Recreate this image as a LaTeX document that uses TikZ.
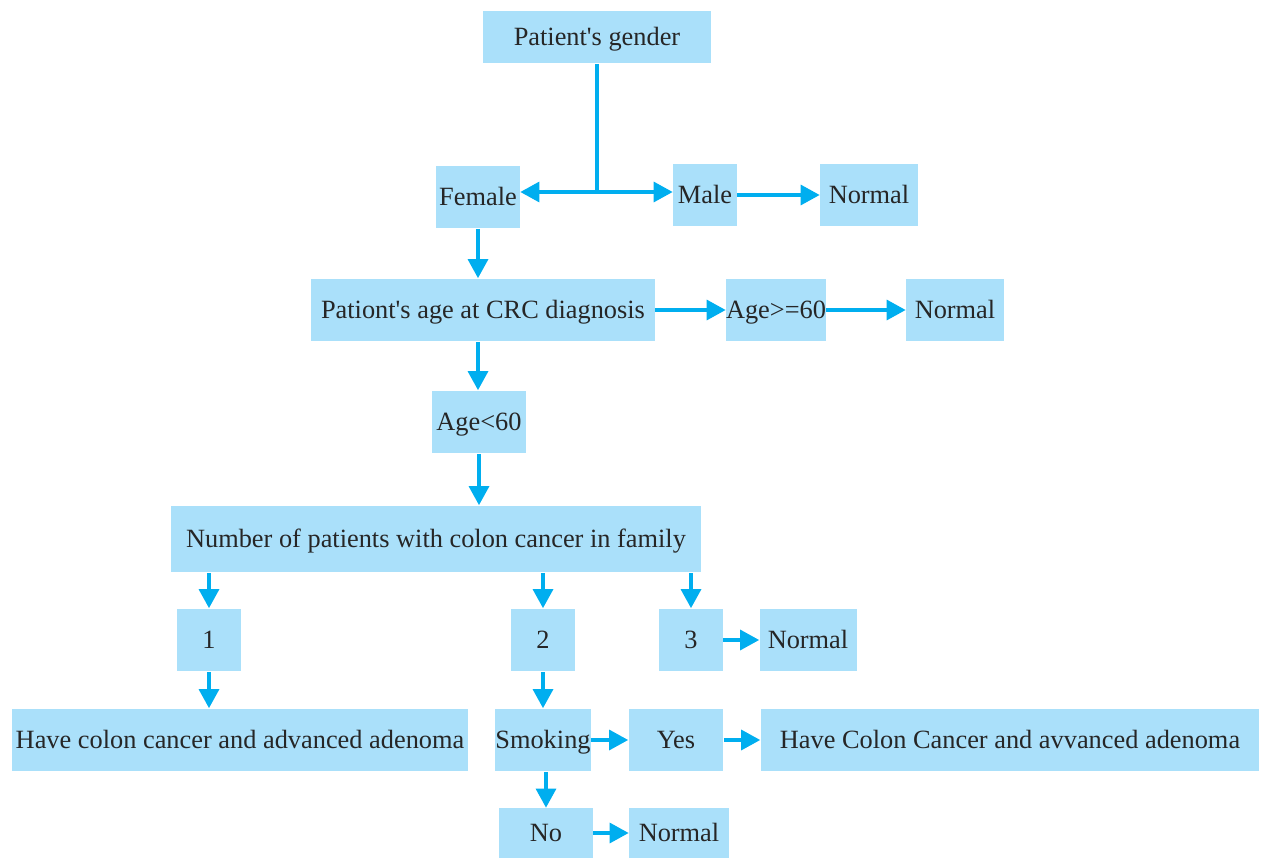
\documentclass[tikz,border=0pt]{standalone}
\usepackage{fontspec}
\setmainfont{Liberation Serif}
\usetikzlibrary{arrows.meta}
\definecolor{boxblue}{RGB}{170,224,250}
\definecolor{arrowblue}{RGB}{0,174,239}

\begin{document}
\begin{tikzpicture}[x=0.02cm, y=-0.02cm,
	every node/.style={fill=boxblue, inner sep=0pt, minimum height=1.26cm, text height=0.35cm, text depth=0pt, text=black!85, font=\fontsize{15}{17}\selectfont},
	link/.style={draw=arrowblue, line width=1.8pt, -{Triangle[length=0.38cm, width=0.4cm]}}]
	\useasboundingbox (0,0) rectangle (1261,858);
	\node[minimum width=4.56cm, minimum height=1.06cm] (gender) at (597,37) {Patient\textquotesingle s gender};
	\node[minimum width=1.68cm] (female) at (478,197) {Female};
	\node[minimum width=1.28cm] (male) at (705,195) {Male};
	\node[minimum width=1.96cm] (normA) at (869,195) {Normal};
	\node[minimum width=6.88cm] (age) at (483,310) {Pationt\textquotesingle s age at CRC diagnosis};
	\node[minimum width=1.9cm] (ageHi) at (776,310) {Age>=60};
	\node[minimum width=1.96cm] (normB) at (955,310) {Normal};
	\node[minimum width=1.88cm] (ageLo) at (479,422) {Age<60};
	\node[minimum width=10.62cm, minimum height=1.34cm] (family) at (436,539) {Number of patients with colon cancer in family};
	\node[minimum width=1.28cm] (one) at (209,640) {1};
	\node[minimum width=1.28cm] (two) at (543,640) {2};
	\node[minimum width=1.28cm] (three) at (691,640) {3};
	\node[minimum width=1.94cm] (normC) at (808,640) {Normal};
	\node[minimum width=9.14cm] (haveA) at (240,740) {Have colon cancer and advanced adenoma};
	\node[minimum width=1.82cm] (smoke) at (543,740) {Smoking};
	\node[minimum width=1.9cm] (yes) at (676,740) {Yes};
	\node[minimum width=9.98cm] (haveB) at (1010,740) {Have Colon Cancer and avvanced adenoma};
	\node[minimum width=1.88cm, minimum height=1.0cm] (no) at (546,833) {No};
	\node[minimum width=2.0cm, minimum height=1.0cm] (normD) at (679,833) {Normal};
	\coordinate (split) at (597,192);
	\draw[arrowblue, line width=1.8pt] (gender) -- (split);
	\draw[link] (split) -- (split -| female.east);
	\draw[link] (split) -- (split -| male.west);
	\foreach \from/\to in {male/normA, age/ageHi, ageHi/normB, three/normC, smoke/yes, yes/haveB, no/normD}
	\draw[link] (\from) -- (\to);
	% vertical links, third entry gives the x of the line
	\foreach \from/\to/\col in {female/age/female, age/ageLo/female, ageLo/family/ageLo, family/one/one, family/two/two, family/three/three, one/haveA/one, two/smoke/two, smoke/no/no}
	\draw[link] (\from.south -| \col) -- (\to.north -| \col);
\end{tikzpicture}
\end{document}
